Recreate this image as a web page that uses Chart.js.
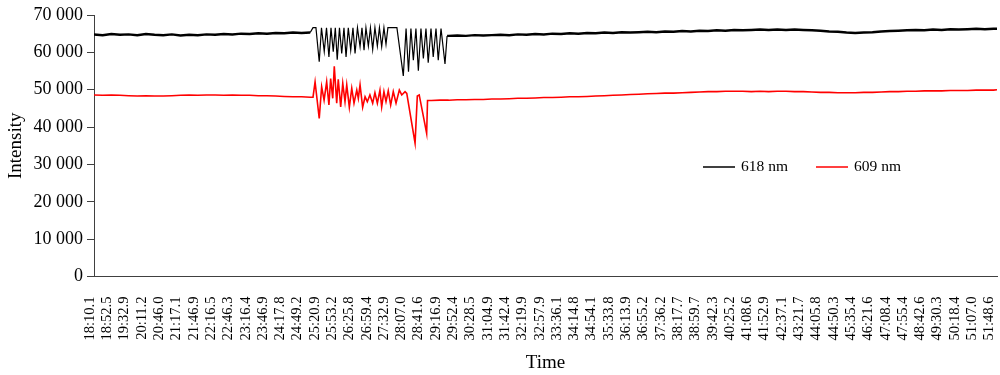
<!DOCTYPE html>
<html>
<head>
<meta charset="utf-8">
<script src="https://cdn.jsdelivr.net/npm/chart.js@4.4.1/dist/chart.umd.min.js"></script>
<style>
html,body{margin:0;padding:0;background:#fff;}
#wrap{width:1000px;height:375px;}
</style>
</head>
<body>
<div id="wrap"><canvas id="c" width="1000" height="375"></canvas></div>
<script>
// Tick labels (time stamps shown on the category axis)
const timeLabels = ['18:10.1','18:52.5','19:32.9','20:11.2','20:46.0','21:17.1','21:46.9','22:16.5','22:46.3','23:16.4','23:46.9','24:17.8','24:49.2','25:20.9','25:53.2','26:25.8','26:59.4','27:32.9','28:07.0','28:41.6','29:16.9','29:52.4','30:28.5','31:04.9','31:42.4','32:19.9','32:57.9','33:36.1','34:14.8','34:54.1','35:33.8','36:13.9','36:55.2','37:36.2','38:17.7','38:59.7','39:42.3','40:25.2','41:08.6','41:52.9','42:37.1','43:21.7','44:05.8','44:50.3','45:35.4','46:21.6','47:08.4','47:55.4','48:42.6','49:30.3','50:18.4','51:07.0','51:48.6'];

const seriesNames = ['618 nm', '609 nm'];
const yTicks = [0, 10000, 20000, 30000, 40000, 50000, 60000, 70000];

// 618 nm: sample position (in tick-label units) and intensity
const s618X = [0,0.5,1,1.5,2,2.5,3,3.5,4,4.5,5,5.5,6,6.5,7,7.5,8,8.5,9,9.5,10,10.5,11,11.5,12,12.5,
  12.66,12.83,13.02,13.15,13.31,13.44,13.58,13.70,13.83,13.95,14.06,14.19,14.32,14.45,14.57,14.70,14.84,14.97,15.09,15.23,15.38,15.49,15.61,15.72,15.86,15.98,16.11,16.24,16.38,16.50,16.63,16.76,16.88,16.99,17.51,17.88,18.04,18.18,18.32,18.46,18.61,18.75,18.90,19.04,19.19,19.32,19.48,19.61,19.77,19.90,20.06,20.29,20.41,
  20.5,21,21.5,22,22.5,23,23.5,24,24.5,25,25.5,26,26.5,27,27.5,28,28.5,29,29.5,30,30.5,31,31.5,32,32.5,33,33.5,34,34.5,35,35.5,36,36.5,37,37.5,38,38.5,39,39.5,40,40.5,
  41,41.5,42,42.5,43,43.5,44,44.5,45,45.5,46,46.5,47,47.5,48,48.5,49,49.5,50,50.5,51,51.5,52,52.2];
const s618Y = [64800,64600,64900,64700,64800,64600,64900,64700,64600,64800,64500,64700,64600,64800,64700,64900,64800,65000,64900,65100,65000,65200,65100,65300,65200,65300,
  66600,66600,57500,66600,60200,66600,58800,66600,60200,66600,58000,66600,59700,66600,58800,66600,60600,66600,59700,66600,61500,66600,60600,66600,61700,66600,60800,66600,61700,66600,61500,66600,62200,66600,66600,53700,66400,54800,66400,57900,66400,55100,66400,58400,66400,57200,66400,58800,66400,57900,66400,56900,64400,
  64400,64500,64400,64600,64500,64600,64700,64600,64800,64700,64900,64800,65000,64900,65100,65000,65200,65100,65300,65200,65400,65300,65400,65500,65400,65600,65500,65700,65600,65800,65700,65900,65800,66000,65900,66000,66100,66000,66100,66000,66100,
  66000,65900,65800,65600,65500,65300,65200,65300,65400,65600,65700,65800,65900,66000,65900,66100,66000,66200,66100,66200,66300,66200,66300,66300];

// 609 nm
const s609X = [0,0.5,1,1.5,2,2.5,3,3.5,4,4.5,5,5.5,6,6.5,7,7.5,8,8.5,9,9.5,10,10.5,11,11.5,12,12.5,
  12.66,12.78,13.02,13.16,13.30,13.45,13.58,13.68,13.80,13.89,14.03,14.12,14.26,14.38,14.51,14.61,14.76,14.90,15.03,15.19,15.28,15.38,15.53,15.67,15.80,15.95,16.11,16.24,16.38,16.53,16.63,16.76,16.88,17.01,17.15,17.30,17.46,17.65,17.79,17.98,18.08,18.56,18.69,18.80,19.23,19.28,
  19.5,20,20.5,21,21.5,22,22.5,23,23.5,24,24.5,25,25.5,26,26.5,27,27.5,28,28.5,29,29.5,30,30.5,31,31.5,32,32.5,33,33.5,34,34.5,35,35.5,36,36.5,37,37.5,38,38.5,39,39.5,40,40.5,41,41.5,42,42.5,43,43.5,44,44.5,45,45.5,46,46.5,47,47.5,48,48.5,49,49.5,50,50.5,51,51.5,52,52.2];
const s609Y = [48600,48500,48600,48500,48400,48300,48400,48300,48300,48400,48500,48600,48500,48600,48600,48500,48600,48500,48500,48400,48400,48300,48200,48100,48100,48000,
  48000,52100,42300,50800,47200,52100,45900,53000,47700,56300,46400,52800,45400,51700,46800,51300,45300,50400,46400,49900,47700,51300,45300,48100,46800,48600,46400,49200,46400,49900,45400,49500,46800,49700,45900,49500,46400,49900,48600,49500,49000,35700,48300,48600,38300,47100,
  47100,47200,47200,47300,47300,47400,47400,47500,47500,47600,47700,47700,47800,47900,47900,48000,48100,48100,48200,48300,48400,48500,48600,48700,48800,48900,49000,49100,49100,49200,49300,49400,49500,49500,49600,49600,49600,49500,49600,49500,49600,49600,49500,49500,49400,49300,49300,49200,49200,49200,49300,49300,49400,49500,49500,49600,49600,49700,49700,49700,49800,49800,49800,49900,49900,49900,50000];

const serif = "'Liberation Serif', 'Times New Roman', serif";
const axisColor = '#404040';
const burst = [12.55, 20.41];

function fmtThousands(v) {
  return String(v).replace(/\B(?=(\d{3})+(?!\d))/g, '\u00a0');
}

const inlineLegend = {
  id: 'inlineLegend',
  afterDraw(chart, args, opts) {
    const ctx = chart.ctx;
    ctx.save();
    chart.data.datasets.forEach((ds, i) => {
      const x = opts.x[i], y = opts.y;
      ctx.strokeStyle = ds.borderColor;
      ctx.lineWidth = 1.5;
      ctx.beginPath();
      ctx.moveTo(x, y);
      ctx.lineTo(x + opts.lineLen, y);
      ctx.stroke();
      ctx.fillStyle = '#000';
      ctx.font = opts.font;
      ctx.textBaseline = 'middle';
      ctx.textAlign = 'left';
      ctx.fillText(ds.label, x + opts.lineLen + opts.gap, y);
    });
    ctx.restore();
  }
};

new Chart(document.getElementById('c'), {
  type: 'line',
  data: {
    datasets: [
      {
        label: seriesNames[0],
        data: s618X.map((x, i) => ({ x: x, y: s618Y[i] })),
        borderColor: '#000000',
        borderWidth: 2.4,
        pointRadius: 0,
        tension: 0,
        segment: {
          borderWidth: c => (c.p1.parsed.x > burst[0] && c.p0.parsed.x < burst[1]) ? 1.2 : 2.4
        }
      },
      {
        label: seriesNames[1],
        data: s609X.map((x, i) => ({ x: x, y: s609Y[i] })),
        borderColor: '#ff0000',
        borderWidth: 1.6,
        pointRadius: 0,
        tension: 0
      }
    ]
  },
  options: {
    responsive: false,
    animation: false,
    devicePixelRatio: 1,
    layout: { padding: { top: 15, right: 3, bottom: 0, left: 0 } },
    plugins: {
      legend: { display: false },
      tooltip: { enabled: false },
      inlineLegend: { x: [703, 816], y: 167, lineLen: 32, gap: 6, font: "15.5px " + serif }
    },
    scales: {
      x: {
        type: 'linear',
        min: 0,
        max: 52.2,
        grid: { display: false, drawTicks: false },
        border: { display: true, color: axisColor, width: 1 },
        ticks: {
          stepSize: 1,
          autoSkip: false,
          includeBounds: false,
          minRotation: 90,
          maxRotation: 90,
          padding: 20,
          labelOffset: -4,
          color: '#000',
          font: { family: serif, size: 14.5 },
          callback: v => {
            const i = Math.round(v);
            return Math.abs(v - i) < 1e-6 && timeLabels[i] !== undefined ? timeLabels[i] : '';
          }
        },
        title: { display: true, text: 'Time', color: '#000', font: { family: serif, size: 19 }, padding: { top: 0, bottom: 1 } },
        afterFit: s => { s.height = 98.5; s.paddingLeft = 0; s.paddingRight = 0; }
      },
      y: {
        min: yTicks[0],
        max: yTicks[yTicks.length - 1],
        afterBuildTicks: s => { s.ticks = yTicks.map(v => ({ value: v })); },
        grid: { drawOnChartArea: false, drawTicks: true, tickLength: 7, color: axisColor },
        border: { display: true, color: axisColor, width: 1 },
        ticks: {
          padding: 4,
          color: '#000',
          font: { family: serif, size: 18 },
          callback: v => fmtThousands(v)
        },
        title: { display: true, text: 'Intensity', color: '#000', font: { family: serif, size: 19 }, padding: { top: 5, bottom: 0 } },
        afterFit: s => { s.width = 94; s.paddingTop = 0; s.paddingBottom = 0; }
      }
    }
  },
  plugins: [inlineLegend]
});
</script>
</body>
</html>
